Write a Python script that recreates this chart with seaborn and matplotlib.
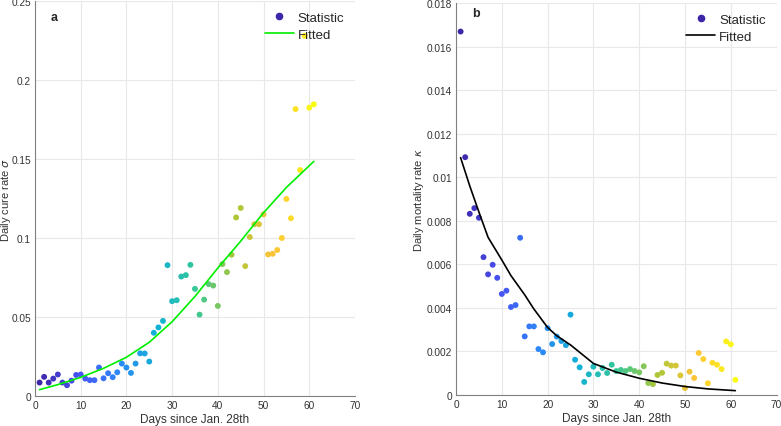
import numpy as np
import pandas as pd
import matplotlib
matplotlib.use("Agg")
import matplotlib.pyplot as plt
import seaborn as sns
from matplotlib.colors import LinearSegmentedColormap
from matplotlib.lines import Line2D

days = list(range(1, 62))

cure_rate = [0.0085, 0.0121, 0.0085, 0.0110, 0.0136, 0.0085, 0.0068, 0.0097, 0.0133, 0.0136,
             0.0110, 0.0100, 0.0100, 0.0180, 0.0112, 0.0144, 0.0119, 0.0150, 0.0205, 0.0180,
             0.0146, 0.0205, 0.0270, 0.0269, 0.0218, 0.0400, 0.0434, 0.0475, 0.0828, 0.0600,
             0.0606, 0.0756, 0.0765, 0.0830, 0.0678, 0.0515, 0.0610, 0.0708, 0.0699, 0.0570,
             0.0835, 0.0784, 0.0894, 0.1130, 0.1190, 0.0822, 0.1006, 0.1087, 0.1087, 0.1150,
             0.0896, 0.0900, 0.0924, 0.1000, 0.1247, 0.1125, 0.1816, 0.1430, 0.2280, 0.1825,
             0.1846]

mortality_rate = [0.01669, 0.01092, 0.00832, 0.00858, 0.00814, 0.00633, 0.00554, 0.00598, 0.00538, 0.00464,
                  0.00479, 0.00404, 0.00413, 0.00722, 0.00269, 0.00315, 0.00315, 0.00211, 0.00196, 0.00307,
                  0.00234, 0.00268, 0.00248, 0.00229, 0.00369, 0.00162, 0.00127, 0.00060, 0.00095, 0.00130,
                  0.00095, 0.00124, 0.00101, 0.00139, 0.00110, 0.00115, 0.00110, 0.00119, 0.00110, 0.00104,
                  0.00132, 0.00055, 0.00050, 0.00092, 0.00102, 0.00144, 0.00135, 0.00135, 0.00090, 0.00032,
                  0.00107, 0.00078, 0.00193, 0.00165, 0.00054, 0.00148, 0.00139, 0.00119, 0.00246, 0.00233,
                  0.00070]

cure_fit_days = [1, 5, 10, 15, 20, 25, 30, 35, 40, 45, 50, 55, 61]
cure_fit = [0.0040, 0.0072, 0.0118, 0.0175, 0.0245, 0.0340, 0.0470, 0.0630, 0.0810, 0.0980, 0.1160, 0.1320, 0.1485]

mort_fit_days = [1, 3, 5, 7, 10, 12, 15, 17, 20, 22, 25, 30, 35, 40, 45, 50, 55, 61]
mortality_fit = [0.0109, 0.0096, 0.0084, 0.00724, 0.0062, 0.00548, 0.0046, 0.00395, 0.0031, 0.00272,
                 0.0023, 0.00145, 0.00105, 0.00077, 0.00055, 0.00039, 0.00028, 0.00020]

parula = LinearSegmentedColormap.from_list("parula", [
    (0.2422, 0.1504, 0.6603), (0.2810, 0.3228, 0.9579), (0.1786, 0.5289, 0.9682),
    (0.0689, 0.6948, 0.8394), (0.2161, 0.7843, 0.5923), (0.6720, 0.7793, 0.2227),
    (0.9970, 0.7659, 0.2199), (0.9769, 0.9839, 0.0805)])

sns.set_style("white")
plt.rcParams["font.family"] = ["Liberation Sans", "DejaVu Sans"]

df = pd.DataFrame({"day": days, "cure": cure_rate, "mort": mortality_rate})
df_cure_fit = pd.DataFrame({"day": cure_fit_days, "val": cure_fit})
df_mort_fit = pd.DataFrame({"day": mort_fit_days, "val": mortality_fit})

fig = plt.figure(figsize=(7.81, 4.27), dpi=100)
ax1 = fig.add_axes([0.0448, 0.0703, 0.4097, 0.925])
ax2 = fig.add_axes([0.5839, 0.0726, 0.4104, 0.918])

panels = [
    (ax1, "cure", df_cure_fit, "#00ee00", "Daily cure rate $\\sigma$", (0, 0.25), np.arange(0, 0.26, 0.05),
     ["0", "0.05", "0.1", "0.15", "0.2", "0.25"], "a", -0.09, 0.975),
    (ax2, "mort", df_mort_fit, "black", "Daily mortality rate $\\kappa$", (0, 0.018), np.arange(0, 0.0181, 0.002),
     ["0", "0.002", "0.004", "0.006", "0.008", "0.01", "0.012", "0.014", "0.016", "0.018"], "b", -0.115, 0.99),
]

for ax, col, fit, lc, ylab, ylim, yt, ytl, letter, ylx, lety in panels:
    sns.scatterplot(data=df, x="day", y=col, hue="day", palette=parula, s=18,
                    linewidth=0, legend=False, ax=ax, zorder=3)
    sns.lineplot(data=fit, x="day", y="val", color=lc, linewidth=1.2, ax=ax, zorder=4)
    ax.set_xlim(0, 70)
    ax.set_ylim(*ylim)
    ax.set_xticks(range(0, 71, 10))
    ax.set_yticks(yt)
    ax.set_yticklabels(ytl)
    ax.grid(True, color="#e8e8e8", linewidth=0.8)
    ax.set_axisbelow(True)
    for s in ["top", "right"]:
        ax.spines[s].set_visible(False)
    for s in ["left", "bottom"]:
        ax.spines[s].set_color("#808080")
        ax.spines[s].set_linewidth(0.8)
    ax.tick_params(direction="in", length=3, color="#808080", labelsize=7.3,
                   labelcolor="#333333", pad=3)
    ax.set_xlabel("Days since Jan. 28th", fontsize=8.5, color="#333333", labelpad=2)
    ax.set_ylabel(ylab, fontsize=8, color="#333333", va="center")
    ax.yaxis.set_label_coords(ylx, 0.5)
    ax.text(0.05, lety, letter, transform=ax.transAxes, fontsize=9, fontweight="bold",
            va="top", ha="left")
    handles = [
        Line2D([], [], marker="o", linestyle="none", color=parula(0.0), markersize=4.5),
        Line2D([], [], color=lc, linewidth=1.2),
    ]
    ax.legend(handles, ["Statistic", "Fitted"], loc="upper right", frameon=False,
              fontsize=9.5, handlelength=2.2, handletextpad=0.3, borderaxespad=0.4,
              labelspacing=0.35, bbox_to_anchor=(1.0, 1.0))

fig.savefig("out.png", dpi=100)
